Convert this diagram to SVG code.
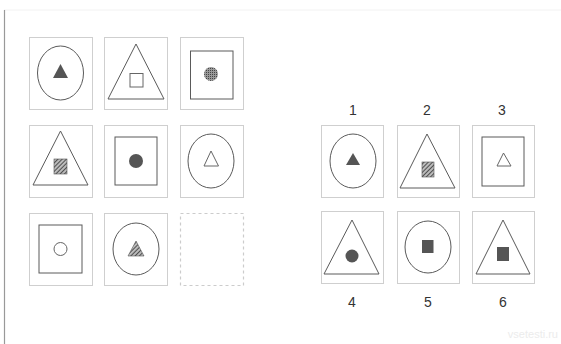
<svg xmlns="http://www.w3.org/2000/svg" width="561" height="344" viewBox="0 0 561 344">
<defs>
<pattern id="hatch" patternUnits="userSpaceOnUse" width="3" height="3" patternTransform="rotate(45)">
<rect width="3" height="3" fill="#bbb"/>
<line x1="0" y1="0" x2="0" y2="3" stroke="#333" stroke-width="1.6"/>
</pattern>
<pattern id="dots" patternUnits="userSpaceOnUse" width="2" height="2">
<rect width="2" height="2" fill="#999"/>
<rect width="1" height="1" fill="#444"/>
</pattern>
</defs>
<style>
.cell{fill:#fff;stroke:#cfcfcf;stroke-width:1}
.sh{fill:none;stroke:#5a5a5a;stroke-width:1}
.fill{fill:#555;stroke:none}
.hat{fill:url(#hatch);stroke:#555;stroke-width:0.6}
.dot{fill:url(#dots);stroke:none}
.open{fill:#fff;stroke:#666;stroke-width:1}
.lbl{font-family:"Liberation Sans",Arial,sans-serif;font-size:14px;fill:#333;text-anchor:middle}
.dash{fill:none;stroke:#ccc;stroke-width:1.2;stroke-dasharray:3,3}
</style>
<rect width="561" height="344" fill="#fff"/>
<line x1="4" y1="10" x2="561" y2="10" stroke="#f2f2f2" stroke-width="1"/>
<line x1="4.5" y1="10" x2="4.5" y2="344" stroke="#999" stroke-width="1.2"/>

<g id="q1"><rect class="cell" x="29.5" y="37.5" width="63" height="72"/><ellipse class="sh" cx="60.5" cy="73" rx="23" ry="27"/><polygon class="fill" points="60.5,64 53,78 68,78"/></g>
<g id="q2"><rect class="cell" x="104.5" y="37.5" width="63" height="72"/><polygon class="sh" points="136,44 108,99 164,99"/><rect class="open" x="130" y="73.5" width="13" height="13.5"/></g>
<g id="q3"><rect class="cell" x="180.5" y="37.5" width="63" height="72"/><rect class="sh" x="190.5" y="51" width="42.5" height="48"/><circle class="dot" cx="211" cy="74" r="7"/></g>

<g id="q4"><rect class="cell" x="29.5" y="125.5" width="63" height="72"/><polygon class="sh" points="60.5,131 33,185 88,185"/><rect class="hat" x="54" y="159" width="13" height="15"/></g>
<g id="q5"><rect class="cell" x="104.5" y="125.5" width="63" height="72"/><rect class="sh" x="115" y="137" width="42" height="48"/><circle class="fill" cx="136" cy="161" r="7"/></g>
<g id="q6"><rect class="cell" x="180.5" y="125.5" width="63" height="72"/><ellipse class="sh" cx="211" cy="161" rx="23" ry="27"/><polygon class="open" points="211,151 204,166 218.5,166"/></g>

<g id="q7"><rect class="cell" x="29.5" y="213.5" width="63" height="72"/><rect class="sh" x="39" y="225" width="43" height="48"/><circle class="open" cx="60.5" cy="249" r="6.5"/></g>
<g id="q8"><rect class="cell" x="104.5" y="213.5" width="63" height="72"/><ellipse class="sh" cx="136" cy="249" rx="23" ry="26"/><polygon class="hat" points="136,241 128,256 144,256"/></g>
<g id="q9"><rect class="dash" x="180.5" y="213.5" width="63" height="72"/></g>

<g id="a1"><text class="lbl" x="353" y="115">1</text><rect class="cell" x="321.5" y="125.5" width="62" height="72"/><ellipse class="sh" cx="353" cy="161" rx="23" ry="27"/><polygon class="fill" points="353,153 346,165 360,165"/></g>
<g id="a2"><text class="lbl" x="427" y="115">2</text><rect class="cell" x="397.5" y="125.5" width="62" height="72"/><polygon class="sh" points="427,134 400,188 455,188"/><rect class="hat" x="422" y="162" width="12" height="15"/></g>
<g id="a3"><text class="lbl" x="502" y="115">3</text><rect class="cell" x="472.5" y="125.5" width="62" height="72"/><rect class="sh" x="482" y="137" width="42" height="49"/><polygon class="open" points="503.5,153 497,166 511,166"/></g>

<g id="a4"><rect class="cell" x="321.5" y="211.5" width="62" height="72"/><polygon class="sh" points="352,220 324,274 379,274"/><circle class="fill" cx="352" cy="256" r="6.5"/><text class="lbl" x="352" y="307">4</text></g>
<g id="a5"><rect class="cell" x="397.5" y="211.5" width="62" height="72"/><ellipse class="sh" cx="428" cy="247" rx="23" ry="26"/><rect class="fill" x="422" y="240" width="11.5" height="13"/><text class="lbl" x="428" y="307">5</text></g>
<g id="a6"><rect class="cell" x="472.5" y="211.5" width="62" height="72"/><polygon class="sh" points="503,220 476,274 530,274"/><rect class="fill" x="497" y="247" width="12" height="14"/><text class="lbl" x="503" y="307">6</text></g>

<text x="558" y="338" font-family="Liberation Sans,Arial,sans-serif" font-size="11" fill="#ececec" text-anchor="end">vsetesti.ru</text>
</svg>
